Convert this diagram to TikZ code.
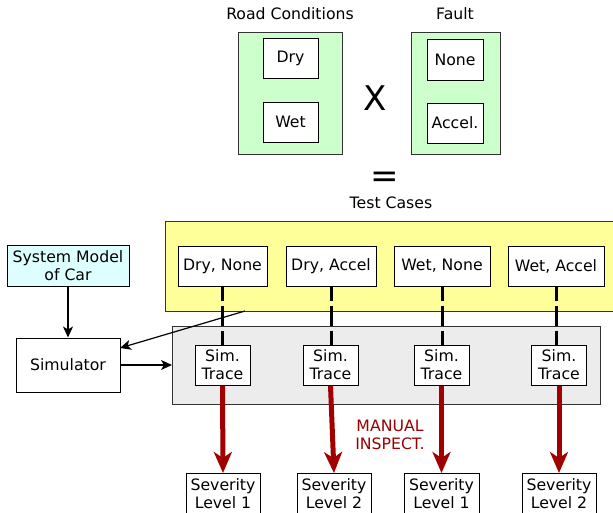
\documentclass[tikz,border=0pt]{standalone}
\usepackage{fontspec}
\setmainfont{DejaVu Sans}
\usetikzlibrary{arrows.meta,calc}
\definecolor{greenfill}{HTML}{CCFFCC}
\definecolor{yellowfill}{HTML}{FFFF99}
\definecolor{cyanfill}{HTML}{DDFFFF}
\definecolor{grayfill}{HTML}{ECECEC}
\definecolor{darkred}{HTML}{A00000}
\definecolor{textred}{HTML}{990000}
\begin{document}
\begin{tikzpicture}[x=1pt,y=-1pt,
  every node/.style={font=\fontsize{15.7}{18}\selectfont},
  box/.style={draw=black,line width=1pt,fill=white,inner sep=0pt,align=center},
  grp/.style={draw=black!80,line width=1pt,inner sep=0pt},
  arr/.style={line width=1.2pt,-{Stealth[length=11pt,width=10pt,inset=3pt]}},
  redarr/.style={draw=darkred,line width=5pt,-{Stealth[length=21pt,width=18pt,inset=6pt]}},
  dashline/.style={line width=3pt,dash pattern=on 20pt off 5pt,dash phase=6pt}]
\useasboundingbox (0,0) rectangle (613,512);
% top part
\node at (290,14) {Road Conditions};
\node at (455,14) {Fault};
\node[grp,fill=greenfill,minimum width=104pt,minimum height=122pt] (road) at (290,93) {};
\node[grp,fill=greenfill,minimum width=89pt,minimum height=122pt] (fault) at (455.5,93) {};
\node[box,minimum width=55pt,minimum height=40pt] (dry) at (290.5,58) {Dry};
\node[box,minimum width=55pt,minimum height=40pt] (wet) at (290.5,122) {Wet};
\node[box,minimum width=56pt,minimum height=41pt] (none) at (455,59.5) {None};
\node[box,minimum width=56pt,minimum height=40pt] (accel) at (455,123) {Accel.};
\node[font=\fontsize{34}{36}\selectfont] (times) at (375,98) {X};
\node[font=\fontsize{34}{36}\selectfont] (equals) at (385,180) {=};
\node (tc) at (391,203) {Test Cases};
% test cases
\node[grp,fill=yellowfill,anchor=north west,minimum width=460pt,minimum height=90pt] (cases) at (165,221) {};
\node[box,minimum width=89pt,minimum height=40pt] (c1) at (222.5,266) {Dry, None};
\node[box,minimum width=90pt,minimum height=40pt] (c2) at (331,266) {Dry, Accel};
\node[box,minimum width=96pt,minimum height=40pt] (c3) at (442,266) {Wet, None};
\node[box,minimum width=96pt,minimum height=40pt] (c4) at (556,266) {Wet, Accel};
% traces
\node[grp,fill=grayfill,anchor=north west,minimum width=428pt,minimum height=78pt] (traces) at (172,326) {};
\node[box,minimum width=55pt,minimum height=40pt] (t1) at (222.5,365) {Sim.\\Trace};
\node[box,minimum width=55pt,minimum height=40pt] (t2) at (330.5,365) {Sim.\\Trace};
\node[box,minimum width=55pt,minimum height=40pt] (t3) at (441.5,365) {Sim.\\Trace};
\node[box,minimum width=55pt,minimum height=40pt] (t4) at (559,365) {Sim.\\Trace};
\foreach \i in {1,2,3,4} \draw[dashline] (c\i.south) -- (c\i.south |- t\i.north);
% severity
\node[box,anchor=north,minimum width=74pt,inner ysep=5pt] (s1) at (223,473) {Severity\\Level 1};
\node[box,anchor=north,minimum width=74pt,inner ysep=5pt] (s2) at (334,473) {Severity\\Level 2};
\node[box,anchor=north,minimum width=75pt,inner ysep=5pt] (s3) at (441.5,473) {Severity\\Level 1};
\node[box,anchor=north,minimum width=74pt,inner ysep=5pt] (s4) at (559,473) {Severity\\Level 2};
\foreach \i in {1,2,3,4} \draw[redarr] (t\i.south) -- (s\i.north);
\node[text=textred,align=center] (manual) at (390,435) {MANUAL\\INSPECT.};
% left side
\node[box,fill=cyanfill,minimum width=122pt,minimum height=41pt] (model) at (68,265.5) {System Model\\of Car};
\node[box,minimum width=104pt,minimum height=54pt] (sim) at (68,365) {Simulator};
\draw[arr] (model.south) -- (sim.north);
\coordinate (yl) at (245,311);
\coordinate (simin) at (120,348);
\draw[arr] (yl) -- (simin);
\draw[arr] (sim.east) -- (traces.west |- sim.east);
\end{tikzpicture}
\end{document}
